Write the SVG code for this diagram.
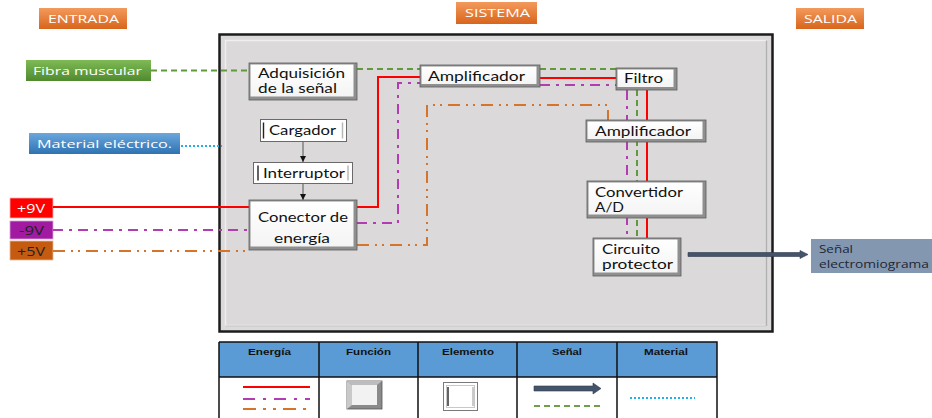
<svg xmlns="http://www.w3.org/2000/svg" width="932" height="418" viewBox="0 0 932 418">
<defs>
<linearGradient id="gOr" x1="0" y1="0" x2="0" y2="1"><stop offset="0" stop-color="#f39a5c"/><stop offset="1" stop-color="#d8651c"/></linearGradient>
<linearGradient id="gGr" x1="0" y1="0" x2="0" y2="1"><stop offset="0" stop-color="#7fba55"/><stop offset="1" stop-color="#4f8a2f"/></linearGradient>
<linearGradient id="gBl" x1="0" y1="0" x2="0" y2="1"><stop offset="0" stop-color="#6aa7dc"/><stop offset="1" stop-color="#2f73b3"/></linearGradient>
<linearGradient id="gNode" x1="0" y1="0" x2="0" y2="1"><stop offset="0" stop-color="#ffffff"/><stop offset="1" stop-color="#f4f4f4"/></linearGradient>
<marker id="ah" viewBox="0 0 6 6" refX="6" refY="3" markerWidth="6" markerHeight="6" orient="auto" markerUnits="userSpaceOnUse"><path d="M0,0 L6,3 L0,6 z" fill="#111"/></marker>
<style>
text{font-family:"Open Sans","DejaVu Sans",sans-serif;}
.nt{font-family:Lato,"Open Sans",sans-serif;font-size:12.4px;fill:#111;}
.lt{font-size:11.5px;fill:#fff;}
.ht{font-family:"Liberation Sans",Arial,sans-serif;font-size:9px;font-weight:bold;fill:#111;}
.fo{fill:#8f8f8f;stroke:#5e5e5e;stroke-width:0.8;}
.fi{fill:url(#gNode);}
.el{fill:#fff;stroke:#6a6a6a;stroke-width:1;}
.ebl{stroke:#222;stroke-width:1.4;}
.ebr{stroke:#b5b5b5;stroke-width:1.4;}
.red{fill:none;stroke:#ff0000;stroke-width:2;}
.pur{fill:none;stroke:#b23cb2;stroke-width:2;stroke-dasharray:10 6 3 6;}
.ora{fill:none;stroke:#d5742b;stroke-width:2;stroke-dasharray:12 6 2 5 2 6;}
.grn{fill:none;stroke:#5f9a3d;stroke-width:2;stroke-dasharray:6 4;}
.blu{fill:none;stroke:#22b0ea;stroke-width:2;stroke-dasharray:2 2;}
.tb{fill:none;stroke:#111;stroke-width:1.5;}
</style>
</defs>

<!-- system frame -->
<g id="sistema-marco">
<rect x="219.5" y="34.5" width="553" height="297" fill="#dbd9da" stroke="#1c1c1c" stroke-width="2.5"/>
<rect x="225.5" y="40.5" width="541" height="285" fill="none" stroke="#efefef" stroke-width="1.5"/>
<line x1="766.5" y1="40.5" x2="766.5" y2="326" stroke="#b0b0b0" stroke-width="1.5"/>
<line x1="225.5" y1="326" x2="766.5" y2="326" stroke="#c4c4c4" stroke-width="1.2"/>
</g>

<!-- header labels -->
<g id="entrada"><rect x="39" y="8" width="88" height="21" fill="url(#gOr)"/><text class="lt" x="48" y="22.5" textLength="71" lengthAdjust="spacingAndGlyphs">ENTRADA</text></g>
<g id="sistema"><rect x="456" y="2" width="81" height="22" fill="url(#gOr)"/><text class="lt" x="465" y="17" textLength="65" lengthAdjust="spacingAndGlyphs">SISTEMA</text></g>
<g id="salida"><rect x="796" y="8" width="68" height="21" fill="url(#gOr)"/><text class="lt" x="804" y="23" textLength="53" lengthAdjust="spacingAndGlyphs">SALIDA</text></g>

<!-- inputs -->
<g id="fibra"><rect x="26" y="60" width="125" height="21" fill="url(#gGr)"/><text class="lt" x="33" y="74.5" textLength="109" lengthAdjust="spacingAndGlyphs">Fibra muscular</text></g>
<g id="material"><rect x="29" y="133" width="151" height="21" fill="url(#gBl)"/><text class="lt" x="37" y="148" textLength="135" lengthAdjust="spacingAndGlyphs">Material eléctrico.</text></g>
<g id="v9p"><rect x="10" y="198" width="43" height="20" fill="#ff0000" stroke="#f4b0b0" stroke-width="0.8"/><text class="lt" x="17" y="212.5" textLength="28" lengthAdjust="spacingAndGlyphs" style="font-size:12.5px">+9V</text></g>
<g id="v9n"><rect x="10" y="221" width="43" height="18" fill="#a11aa1" stroke="#d7a6d7" stroke-width="0.8"/><text class="lt" x="19" y="235" textLength="25" lengthAdjust="spacingAndGlyphs" style="font-size:12.5px;fill:#222">-9V</text></g>
<g id="v5p"><rect x="10" y="241" width="43" height="19" fill="#c55a11" stroke="#e6b896" stroke-width="0.8"/><text class="lt" x="17" y="255.5" textLength="28" lengthAdjust="spacingAndGlyphs" style="font-size:12.5px;fill:#222">+5V</text></g>

<!-- connectors -->
<g id="conectores">
<path class="blu" d="M181 146 H222"/>
<path class="grn" d="M151 70.5 H249 M357 69 H420 M540 69 H617 M637 90 V238"/>
<path class="red" d="M53 207 H249 M357 207 H378 V77 H420 M540 78 H616 M647 90 V238"/>
<path class="pur" d="M53 230 H249 M357 223 H398 V83 H420 M540 85 H616 M627 90 V238"/>
<path class="ora" d="M53 251 H249 M357 245 H427 V105 H608 V120"/>
<line x1="303" y1="142" x2="303" y2="162" stroke="#555" stroke-width="1" marker-end="url(#ah)"/>
<line x1="303" y1="184" x2="303" y2="200" stroke="#555" stroke-width="1" marker-end="url(#ah)"/>
<polygon points="688,252.5 800,252.5 800,250.5 808,254.5 800,258.5 800,256.5 688,256.5" fill="#44546a" stroke="#2f3b4c" stroke-width="0.6"/>
</g>

<!-- function nodes -->
<g id="adquisicion"><rect class="fo" x="249" y="63" width="108" height="37"/><rect class="fi" x="250.5" y="64.5" width="103" height="32"/><text class="nt" x="258" y="78" textLength="87" lengthAdjust="spacingAndGlyphs">Adquisición</text><text class="nt" x="258" y="93" textLength="79" lengthAdjust="spacingAndGlyphs">de la señal</text></g>
<g id="amplificador1"><rect class="fo" x="420" y="65" width="120" height="22"/><rect class="fi" x="421.5" y="66.5" width="115" height="17.5"/><text class="nt" x="428" y="81" textLength="97" lengthAdjust="spacingAndGlyphs">Amplificador</text></g>
<g id="filtro"><rect class="fo" x="616" y="68" width="61" height="22"/><rect class="fi" x="617.5" y="69.5" width="56" height="17.5"/><text class="nt" x="624" y="83" textLength="39" lengthAdjust="spacingAndGlyphs">Filtro</text></g>
<g id="amplificador2"><rect class="fo" x="586" y="120" width="120" height="22"/><rect class="fi" x="587.5" y="121.5" width="115" height="17.5"/><text class="nt" x="595" y="135.5" textLength="96" lengthAdjust="spacingAndGlyphs">Amplificador</text></g>
<g id="convertidor"><rect class="fo" x="587" y="181" width="119" height="37"/><rect class="fi" x="588.5" y="182.5" width="114" height="32"/><text class="nt" x="595" y="196.5" textLength="88" lengthAdjust="spacingAndGlyphs">Convertidor</text><text class="nt" x="595" y="211.5" textLength="29" lengthAdjust="spacingAndGlyphs">A/D</text></g>
<g id="circuito"><rect class="fo" x="593" y="238" width="88" height="38"/><rect class="fi" x="594.5" y="239.5" width="83" height="33"/><text class="nt" x="602" y="253.5" textLength="58" lengthAdjust="spacingAndGlyphs">Circuito</text><text class="nt" x="602" y="268.5" textLength="71" lengthAdjust="spacingAndGlyphs">protector</text></g>
<g id="conector"><rect class="fo" x="249" y="200" width="108" height="50"/><rect class="fi" x="250.5" y="201.5" width="103" height="45"/><text class="nt" x="258" y="221.5" textLength="90" lengthAdjust="spacingAndGlyphs">Conector de</text><text class="nt" x="274" y="243" textLength="56" lengthAdjust="spacingAndGlyphs">energía</text></g>

<!-- element nodes -->
<g id="cargador"><rect class="el" x="260.5" y="119.5" width="86" height="22"/><line class="ebl" x1="263.5" y1="122.5" x2="263.5" y2="138.5"/><line class="ebr" x1="342.5" y1="122.5" x2="342.5" y2="138.5"/><text class="nt" x="269" y="135" textLength="67" lengthAdjust="spacingAndGlyphs">Cargador</text></g>
<g id="interruptor"><rect class="el" x="253.5" y="162.5" width="99" height="21"/><line class="ebl" x1="258" y1="165.5" x2="258" y2="180.5"/><line class="ebr" x1="348" y1="165.5" x2="348" y2="180.5"/><text class="nt" x="263" y="177.5" textLength="82" lengthAdjust="spacingAndGlyphs">Interruptor</text></g>

<!-- output -->
<g id="salida-senal"><rect x="811" y="239" width="121" height="34" fill="#8497b0"/><text x="819" y="252.5" style="font-size:10.5px;fill:#1e2633" textLength="34" lengthAdjust="spacingAndGlyphs">Señal</text><text x="819" y="267.5" style="font-size:10.5px;fill:#1e2633" textLength="110" lengthAdjust="spacingAndGlyphs">electromiograma</text></g>

<!-- legend -->
<g id="leyenda">
<rect x="219" y="342" width="498" height="35" fill="#5b9bd5"/>
<rect x="219" y="377" width="498" height="43" fill="#fff"/>
<path class="tb" d="M219 342 H717 V420 M219 420 V342 M219 377 H717 M319 342 V420 M418 342 V420 M517 342 V420 M617 342 V420"/>
<text class="ht" x="248" y="354.5" textLength="43" lengthAdjust="spacingAndGlyphs">Energía</text>
<text class="ht" x="346" y="354.5" textLength="45" lengthAdjust="spacingAndGlyphs">Función</text>
<text class="ht" x="442" y="354.5" textLength="52" lengthAdjust="spacingAndGlyphs">Elemento</text>
<text class="ht" x="552" y="354.5" textLength="30" lengthAdjust="spacingAndGlyphs">Señal</text>
<text class="ht" x="644" y="354.5" textLength="44" lengthAdjust="spacingAndGlyphs">Material</text>
<line class="red" x1="243" y1="387" x2="310" y2="387"/>
<line class="pur" x1="243" y1="399" x2="310" y2="399" style="stroke-dasharray:12 8 3 8"/>
<line class="ora" x1="243" y1="409" x2="310" y2="409" style="stroke-dasharray:13 7 3 7 3 7"/>
<rect x="347" y="381" width="35" height="28" fill="#8a8a8a" stroke="#555" stroke-width="0.8"/>
<polygon points="347,381 382,381 377,385 352,385" fill="#bdbdbd"/>
<polygon points="347,381 352,385 352,405 347,409" fill="#c9c9c9"/>
<rect x="352" y="385" width="25" height="20" fill="#f2f2f2"/>
<rect x="443.5" y="382.5" width="34" height="28" fill="#fff" stroke="#7a7a7a" stroke-width="1"/>
<rect x="446.5" y="385.5" width="28" height="22" fill="none" stroke="#c8c8c8" stroke-width="1"/>
<line class="ebl" x1="448" y1="387" x2="448" y2="406"/>
<line class="ebr" x1="473" y1="387" x2="473" y2="406"/>
<polygon points="534,386 593,386 593,383 601,388.5 593,394 593,391 534,391" fill="#44546a" stroke="#2f3b4c" stroke-width="0.6"/>
<line class="grn" x1="534" y1="406" x2="600" y2="406" style="stroke:#6ea04a"/>
<line class="blu" x1="630" y1="398" x2="695" y2="398"/>
</g>
</svg>
